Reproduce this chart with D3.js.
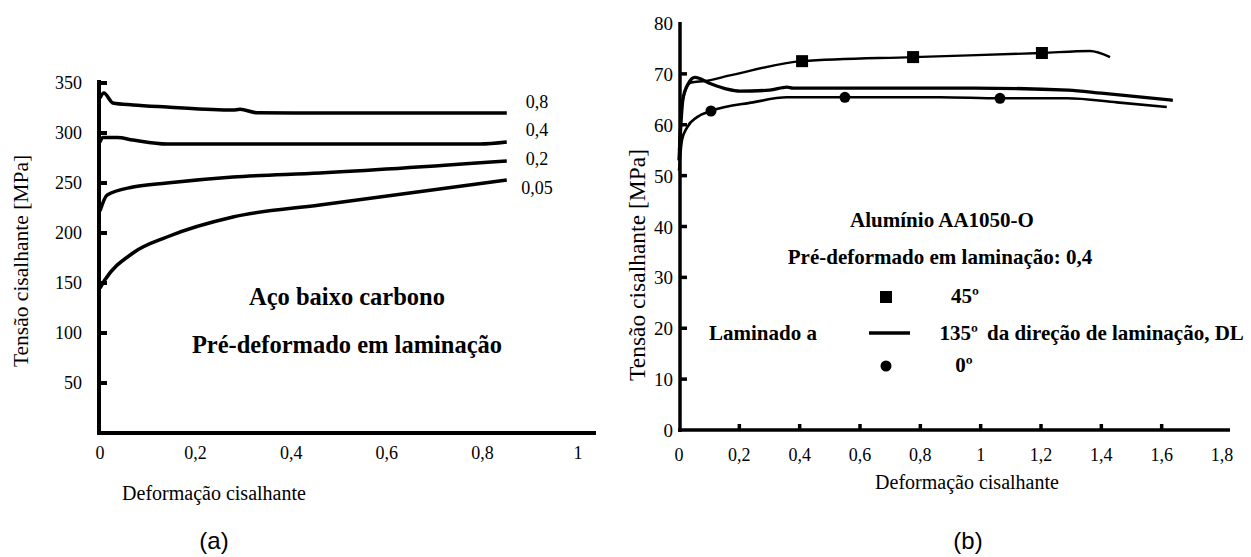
<!DOCTYPE html>
<html><head><meta charset="utf-8">
<script src="https://cdn.jsdelivr.net/npm/d3@7"></script>
<style>
html,body{margin:0;padding:0;background:#fff;}
svg{display:block;}
text{font-family:'Liberation Serif','Times New Roman',serif;fill:#000;}
</style></head>
<body><svg id="c" width="1251" height="557"></svg>
<script>
// ---------- DATA (a): low carbon steel ----------
const steelLabels = ["0,8", "0,4", "0,2", "0,05"];
const steel08  = [[0,335],[0.008,340],[0.027,330],[0.069,328],[0.14,326],[0.278,323],[0.293,323.7],[0.328,320.3],[0.404,320],[0.851,320]];
const steel04  = [[0,291],[0.006,295.5],[0.036,295.5],[0.069,293],[0.14,289],[0.628,289],[0.795,289],[0.851,291]];
const steel02  = [[0,222],[0.015,238],[0.069,246],[0.14,250],[0.278,256],[0.46,260],[0.851,272]];
const steel005 = [[0,145],[0.01,153],[0.069,180],[0.14,196],[0.278,216],[0.46,228],[0.851,253]];
const steelXTicks = [0, 0.2, 0.4, 0.6, 0.8, 1];
const steelXTickLabels = ["0", "0,2", "0,4", "0,6", "0,8", "1"];
const steelYTicks = [50, 100, 150, 200, 250, 300, 350];

// ---------- DATA (b): aluminium AA1050-O ----------
const alSeries = ["45º", "135º", "0º"];
const al45  = [[0,55],[0.008,63],[0.02,66.5],[0.04,68.3],[0.086,68.6],[0.169,69.7],[0.408,72.5],[0.776,73.3],[1.203,74.1],[1.362,74.5],[1.429,73.3]];
const al135 = [[0,53],[0.013,65],[0.03,68],[0.053,69.3],[0.103,68.1],[0.159,67],[0.202,66.6],[0.3,66.8],[0.358,67.4],[0.378,67.2],[0.725,67.2],[0.98,67.2],[1.29,66.8],[1.40,66.2],[1.637,64.8]];
const al0   = [[0,51],[0.01,57],[0.027,59.5],[0.06,61.5],[0.106,62.7],[0.245,64.4],[0.358,65.4],[0.55,65.4],[0.865,65.4],[1.064,65.2],[1.286,65.2],[1.452,64.4],[1.617,63.5]];
const al45Markers = [[0.408,72.5],[0.776,73.3],[1.203,74.1]];
const al0Markers  = [[0.106,62.7],[0.55,65.4],[1.064,65.2]];
const alXTicks = [0, 0.2, 0.4, 0.6, 0.8, 1, 1.2, 1.4, 1.6, 1.8];
const alXTickLabels = ["0", "0,2", "0,4", "0,6", "0,8", "1", "1,2", "1,4", "1,6", "1,8"];
const alYTicks = [0, 10, 20, 30, 40, 50, 60, 70, 80];

const svg = d3.select("#c");

// ================= Chart (a) =================
const xA = d3.scaleLinear().domain([0, 1]).range([100, 578]);
const yA = d3.scaleLinear().domain([0, 350]).range([433, 83]);
const gA = svg.append("g");

gA.append("line").attr("x1", 99).attr("x2", 99).attr("y1", 80).attr("y2", 435).attr("stroke", "#000").attr("stroke-width", 4);
gA.append("line").attr("x1", 97).attr("x2", 596).attr("y1", 433).attr("y2", 433).attr("stroke", "#000").attr("stroke-width", 4);
gA.selectAll(".yt").data(steelYTicks).enter().append("line")
  .attr("x1", 99).attr("x2", 107).attr("y1", d => yA(d)).attr("y2", d => yA(d))
  .attr("stroke", "#000").attr("stroke-width", 4);
gA.selectAll(".yl").data(steelYTicks).enter().append("text")
  .attr("x", 82).attr("y", d => yA(d) + 6).attr("text-anchor", "end")
  .style("font-size", "18px").text(d => d);
gA.selectAll(".xl").data(steelXTicks).enter().append("text")
  .attr("x", d => xA(d)).attr("y", 459).attr("text-anchor", "middle")
  .style("font-size", "18px").text((d, i) => steelXTickLabels[i]);

const lineA = d3.line().x(d => xA(d[0])).y(d => yA(d[1])).curve(d3.curveMonotoneX);
const steelSeries = [steel08, steel04, steel02, steel005];
gA.selectAll(".sc").data(steelSeries).enter().append("path")
  .attr("d", lineA).attr("fill", "none").attr("stroke", "#000").attr("stroke-width", 3.5)
  .attr("stroke-linejoin", "round");
gA.selectAll(".el").data(steelSeries).enter().append("text")
  .attr("x", 537).attr("y", (d, i) => [108, 136, 165, 194][i]).attr("text-anchor", "middle")
  .style("font-size", "18px").text((d, i) => steelLabels[i]);

gA.append("text").attr("transform", "translate(28,261) rotate(-90)").attr("text-anchor", "middle")
  .style("font-size", "21.5px").text("Tensão cisalhante [MPa]");
gA.append("text").attr("x", 214).attr("y", 500).attr("text-anchor", "middle")
  .style("font-size", "20px").text("Deformação cisalhante");
gA.append("text").attr("x", 347).attr("y", 305).attr("text-anchor", "middle")
  .style("font-size", "24.5px").style("font-weight", "bold").text("Aço baixo carbono");
gA.append("text").attr("x", 347).attr("y", 353).attr("text-anchor", "middle")
  .style("font-size", "24.5px").style("font-weight", "bold").text("Pré-deformado em laminação");

// ================= Chart (b) =================
const xB = d3.scaleLinear().domain([0, 1.8]).range([679, 1222]);
const yB = d3.scaleLinear().domain([0, 80]).range([430, 23]);
const gB = svg.append("g");
gB.append("line").attr("x1", 680).attr("x2", 680).attr("y1", 22).attr("y2", 432).attr("stroke", "#000").attr("stroke-width", 3.5);
gB.append("line").attr("x1", 678).attr("x2", 1230).attr("y1", 430).attr("y2", 430).attr("stroke", "#000").attr("stroke-width", 3.5);
gB.selectAll(".yt").data(alYTicks.filter(d => d > 0 && d < 80)).enter().append("line")
  .attr("x1", 680).attr("x2", 687).attr("y1", d => yB(d)).attr("y2", d => yB(d))
  .attr("stroke", "#000").attr("stroke-width", 3.5);
gB.selectAll(".xt").data(alXTicks.filter(d => d > 0 && d < 1.8)).enter().append("line")
  .attr("x1", d => xB(d)).attr("x2", d => xB(d)).attr("y1", 430).attr("y2", 424)
  .attr("stroke", "#000").attr("stroke-width", 3.5);
gB.selectAll(".yl").data(alYTicks).enter().append("text")
  .attr("x", 673).attr("y", d => yB(d) + 7).attr("text-anchor", "end")
  .style("font-size", "19px").text(d => d);
gB.selectAll(".xl").data(alXTicks).enter().append("text")
  .attr("x", d => xB(d)).attr("y", 461).attr("text-anchor", "middle")
  .style("font-size", "18px").text((d, i) => alXTickLabels[i]);

const lineB = d3.line().x(d => xB(d[0])).y(d => yB(d[1])).curve(d3.curveMonotoneX);
gB.append("path").attr("d", lineB(al45)).attr("fill", "none").attr("stroke", "#000").attr("stroke-width", 2.4);
gB.append("path").attr("d", lineB(al135)).attr("fill", "none").attr("stroke", "#000").attr("stroke-width", 3.3);
gB.append("path").attr("d", lineB(al0)).attr("fill", "none").attr("stroke", "#000").attr("stroke-width", 2.6);
gB.selectAll(".sq").data(al45Markers).enter().append("rect")
  .attr("x", d => xB(d[0]) - 6).attr("y", d => yB(d[1]) - 6).attr("width", 12).attr("height", 12).attr("fill", "#000");
gB.selectAll(".ci").data(al0Markers).enter().append("circle")
  .attr("cx", d => xB(d[0])).attr("cy", d => yB(d[1])).attr("r", 5.5).attr("fill", "#000");

gB.append("text").attr("transform", "translate(645,265) rotate(-90)").attr("text-anchor", "middle")
  .style("font-size", "23.5px").text("Tensão cisalhante [MPa]");
gB.append("text").attr("x", 967).attr("y", 489).attr("text-anchor", "middle")
  .style("font-size", "20px").text("Deformação cisalhante");

const bold = (x, y, t, anchor) => gB.append("text").attr("x", x).attr("y", y).attr("text-anchor", anchor || "middle")
  .style("font-size", "21px").style("font-weight", "bold").text(t);
bold(942, 227, "Alumínio AA1050-O");
bold(940, 264, "Pré-deformado em laminação: 0,4");
bold(763, 340, "Laminado a");
bold(965, 303, alSeries[0]);
bold(978, 340, alSeries[1], "end");
bold(964, 372, alSeries[2]);
bold(987, 340, "da direção de laminação, DL", "start");
gB.append("rect").attr("x", 880).attr("y", 291).attr("width", 12).attr("height", 12).attr("fill", "#000");
gB.append("line").attr("x1", 869).attr("x2", 910).attr("y1", 333).attr("y2", 333).attr("stroke", "#000").attr("stroke-width", 3.3);
gB.append("circle").attr("cx", 886).attr("cy", 366).attr("r", 5.5).attr("fill", "#000");

svg.append("text").attr("x", 214).attr("y", 549).attr("text-anchor", "middle")
  .style("font-family", "'Liberation Sans',Arial,sans-serif").style("font-size", "24px").text("(a)");
svg.append("text").attr("x", 968).attr("y", 549).attr("text-anchor", "middle")
  .style("font-family", "'Liberation Sans',Arial,sans-serif").style("font-size", "24px").text("(b)");
</script></body></html>
